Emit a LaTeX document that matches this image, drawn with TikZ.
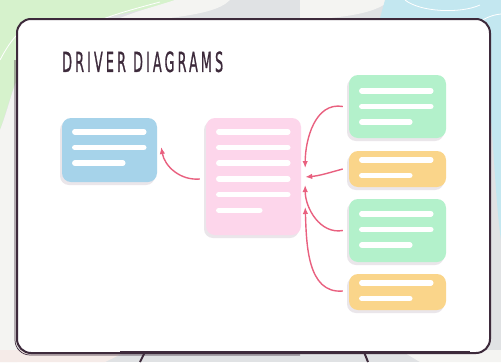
\documentclass[tikz,border=0pt]{standalone}
\usepackage{fontspec}
\usetikzlibrary{calc,arrows.meta,shadows}
\newfontfamily\titlefont[LetterSpace=24,FakeBold=1.2]{DejaVu Sans}
\definecolor{boardline}{HTML}{3D2A3B}
\definecolor{bgray}{HTML}{E0E2E4}
\definecolor{bgreen}{HTML}{D6F2CC}
\definecolor{bblue}{HTML}{C3E7F0}
\definecolor{bwhite}{HTML}{F4F4F2}
\definecolor{bpink}{HTML}{F5EBE8}
\definecolor{cblue}{HTML}{A6D3EA}
\definecolor{cpink}{HTML}{FDD6EB}
\definecolor{cgreen}{HTML}{B3F1CB}
\definecolor{corange}{HTML}{FAD58A}
\definecolor{arrowc}{HTML}{E9607F}
\definecolor{shade}{HTML}{EAE6EA}
\tikzset{
  card/.style={rounded corners=9pt, minimum width=#1, inner sep=0pt, draw=none,
    drop shadow={shadow xshift=-2pt, shadow yshift=-3pt, fill=shade, opacity=1}},
  bar/.style={white, line width=5.5pt, line cap=round},
  link/.style={arrowc, line width=1.4pt, -{Latex[length=7pt,width=5.5pt]}},
}
\newcommand\drawbars[4]{%
  \foreach \i in {1,...,#3}{%
    \pgfmathsetmacro\len{ifthenelse(\i==#3,#4,69)}%
    \draw[bar] ($(#1.north west)+(13,{#2+15.7*(\i-1)})$) -- ++(\len,0);
  }%
}
\begin{document}
\begin{tikzpicture}[x=1pt,y=-1pt]
\useasboundingbox (0,0) rectangle (501,362);
% background
\fill[bgray] (0,0) rectangle (501,362);
\fill[bgreen] (0,0) -- (175,0) .. controls (150,12) and (90,15) .. (40,40) .. controls (20,60) and (10,100) .. (0,130) -- cycle;
\fill[bwhite] (175,0) -- (230,0) .. controls (220,10) and (200,14) .. (170,18) -- (120,18) .. controls (140,10) and (160,5) .. (175,0) -- cycle;
\fill[bwhite] (300,0) -- (390,0) .. controls (380,10) and (360,15) .. (330,18) -- (300,18) -- cycle;
\fill[bblue] (385,0) -- (501,0) -- (501,240) .. controls (495,200) and (493,120) .. (485,60) .. controls (470,25) and (430,20) .. (380,18) -- cycle;
\fill[bwhite] (0,130) .. controls (8,110) and (12,90) .. (17,80) -- (17,362) -- (0,362) -- cycle;
\fill[bpink] (0,350) -- (130,350) -- (105,362) -- (0,362) -- cycle;
\fill[bwhite] (400,350) -- (501,350) -- (501,362) -- (420,362) -- cycle;
\draw[white, line width=0.8pt] (60,40) .. controls (90,20) and (130,10) .. (160,2);
\draw[white, line width=0.8pt] (0,60) .. controls (8,45) and (15,35) .. (25,28);
\draw[white, line width=0.8pt] (405,0) .. controls (420,12) and (460,14) .. (480,5);
\draw[white, line width=0.8pt] (470,30) .. controls (480,20) and (490,15) .. (501,14);
% stand legs
\draw[boardline, line width=2pt] (145,352) -- (140,362);
\draw[boardline, line width=2pt] (364,352) -- (368,362);
% board
\draw[boardline, line width=2pt, fill=white, rounded corners=14pt] (17,19) rectangle (490,353);
\draw[boardline, line width=0.7pt, rounded corners=15pt] (15,60) -- (15,355) -- (300,355);
\draw[boardline, line width=1.2pt] (120,351.5) -- (470,351.5);
% title
\node[anchor=south west, inner sep=0pt, text=boardline] (title) at (62,72.5)
  {\resizebox{161pt}{20.5pt}{\titlefont DRIVER DIAGRAMS}};
% cards
\node[card=95pt, minimum height=64pt, fill=cblue] (blue) at (109.5,150) {};
\node[card=95pt, minimum height=117pt, fill=cpink] (pink) at (253.5,176.5) {};
\node[card=97pt, minimum height=63pt, fill=cgreen] (g1) at (397.5,106.5) {};
\node[card=97pt, minimum height=36pt, fill=corange] (o1) at (397.5,169) {};
\node[card=97pt, minimum height=63pt, fill=cgreen] (g2) at (397.5,230.5) {};
\node[card=97pt, minimum height=36pt, fill=corange] (o2) at (397.5,292) {};
\drawbars{blue}{14}{3}{48}
\drawbars{pink}{14}{6}{41}
\drawbars{g1}{16}{3}{48}
\drawbars{o1}{9}{2}{48}
\drawbars{g2}{15}{3}{48}
\drawbars{o2}{9}{2}{48}
% connectors
\draw[link] ($(pink.west)+(-6,2.5)$) to[out=185,in=-80] ($(blue.east)+(4,-3)$);
\draw[link] ($(g1.west)+(-6,0)$) to[out=170,in=90] ($(pink.east)+(4,-8.5)$);
\draw[link] ($(o1.west)+(-6,0)$) to[out=195,in=5] ($(pink.east)+(4,0.5)$);
\draw[link] ($(g2.west)+(-6,0)$) to[out=190,in=-90] ($(pink.east)+(4,8.5)$);
\draw[link] ($(o2.west)+(-6,-1)$) to[out=185,in=-88] ($(pink.east)+(4,30.5)$);
\end{tikzpicture}
\end{document}
